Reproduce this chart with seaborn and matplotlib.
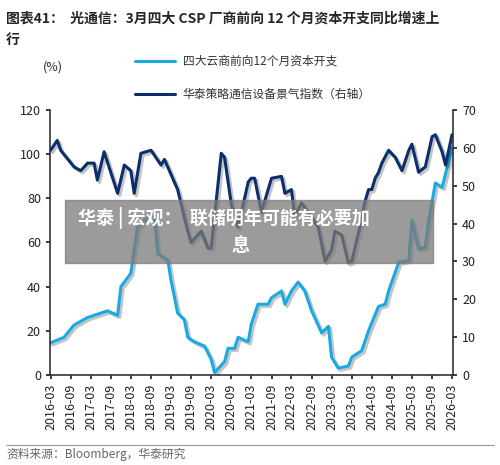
import matplotlib
matplotlib.use("Agg")
import matplotlib.pyplot as plt
import matplotlib.patheffects as pe
import seaborn as sns
import pandas as pd

sns.set_theme(style="white")
plt.rcParams['font.family'] = ['Noto Sans CJK SC', 'DejaVu Sans']

# months after 2016-03 and values
capex_m = [0,4,7,11,17,20,21,24,26,28,31,32,35,36,38,40,41,43,46,48,49,52,53,55,56,59,60,62,65,66,69,70,72,74,76,78,81,83,84,86,89,90,93,95,98,100,101,104,107,108,110,112,113,115,117,120]
capex_v = [14.5,17,22.6,26,29,27,40,46,67,70,73,55,52,43,28,25,17,15,13,7,1,6,12,12,17,15,23,32,32,35,38,32,38,42,38,29,19,22,8,3,4,8,11,20,31,32,38,51,52,70,57,58,70,87,85,103]
idx_m = [0,2,3,7,9,11,13,14,16,20,22,24,25,27,30,33,34,38,41,42,45,47,48,51,52,54,56,59,60,61,63,66,69,70,72,73,75,77,80,82,84,85,87,89,90,92,94,95,96,97,98,99,101,103,105,107,108,110,112,114,115,117,118,120]
idx_v = [59.4,62,59.4,55,54,56,56,51.5,59,48,55.5,54,48,58.6,59.4,55.5,57,49,38,35,38,33.5,33.5,58.6,57.5,45,39,51,52,52,43,52,52.5,48,49,42,45.5,43,39,30,33,38,37,29.6,30,37.5,46,49,49,52,53.5,56,59.4,57.5,54,59.4,61,53.6,55,63,63.5,59,55.5,63.5]
tick_labels = ["2016-03","2016-09","2017-03","2017-09","2018-03","2018-09","2019-03","2019-09","2020-03","2020-09","2021-03","2021-09","2022-03","2022-09","2023-03","2023-09","2024-03","2024-09","2025-03","2025-09","2026-03"]

base = pd.Timestamp("2016-03-01")
df1 = pd.DataFrame({"date": [base + pd.DateOffset(months=m) for m in capex_m], "v": capex_v})
df2 = pd.DataFrame({"date": [base + pd.DateOffset(months=m) for m in idx_m], "v": idx_v})

fig = plt.figure(figsize=(5, 4.65), dpi=100)
ax = fig.add_axes([0.1, 0.194, 0.806, 0.569])
ax2 = ax.twinx()
light = "#1AAAE2"; dark = "#0C2F6B"
shadow = [pe.SimpleLineShadow(offset=(1.5, -1.5), alpha=0.25, linewidth=2.5), pe.Normal()]
sns.lineplot(data=df1, x="date", y="v", ax=ax, color=light, lw=2.2)
sns.lineplot(data=df2, x="date", y="v", ax=ax2, color=dark, lw=2.2)
for l in ax.lines + ax2.lines:
    l.set_path_effects(shadow)

ax.set_ylim(0, 120); ax2.set_ylim(0, 70)
ax.set_yticks(range(0, 121, 20)); ax2.set_yticks(range(0, 71, 10))
ticks = [pd.Timestamp(t + "-01") for t in tick_labels]
ax.set_xticks(ticks); ax.set_xticklabels(tick_labels, rotation=90)
ax.set_xlim(base - pd.DateOffset(days=5), pd.Timestamp("2026-03-10"))
for a in (ax, ax2):
    a.set_xlabel(""); a.set_ylabel("")
    a.tick_params(labelsize=9, colors="#222222", length=3, direction="out")
    for s in a.spines.values():
        s.set_visible(False)
ax.spines['left'].set_visible(True); ax.spines['bottom'].set_visible(True)
ax2.spines['right'].set_visible(True)
for s in (ax.spines['left'], ax.spines['bottom'], ax2.spines['right']):
    s.set_color("#333333"); s.set_linewidth(1.2)
ax.tick_params(axis='both', left=True, bottom=True)
ax2.tick_params(axis='y', right=True)

fig.text(0.012, 0.975, "图表41：  光通信：3月四大 CSP 厂商前向 12 个月资本开支同比增速上", fontsize=10, fontweight="bold", va="top")
fig.text(0.012, 0.93, "行", fontsize=10, fontweight="bold", va="top")
fig.text(0.085, 0.855, "(%)", fontsize=9, va="center")
fig.lines.append(plt.Line2D([0.27, 0.35], [0.868, 0.868], color=light, lw=2.2, transform=fig.transFigure))
fig.lines.append(plt.Line2D([0.27, 0.35], [0.797, 0.797], color=dark, lw=2.2, transform=fig.transFigure))
fig.text(0.365, 0.868, "四大云商前向12个月资本开支", fontsize=8.5, va="center", color="#333333")
fig.text(0.365, 0.797, "华泰策略通信设备景气指数（右轴）", fontsize=8.5, va="center", color="#333333")

fig.patches.append(plt.Rectangle((0.13, 0.434), 0.735, 0.136, transform=fig.transFigure, color="#7a7a7a", alpha=0.75, zorder=5))
fig.text(0.155, 0.532, "华泰 | 宏观：  联储明年可能有必要加", fontsize=13, fontweight="bold", color="white", va="center", zorder=6)
fig.text(0.48, 0.472, "息", fontsize=13, fontweight="bold", color="white", va="center", ha="center", zorder=6)

fig.lines.append(plt.Line2D([0.012, 0.988], [0.043, 0.043], color="#999999", lw=0.8, transform=fig.transFigure))
fig.text(0.012, 0.022, "资料来源：Bloomberg，华泰研究", fontsize=8.5, color="#666666", va="center")
fig.savefig("out.png", dpi=100)
